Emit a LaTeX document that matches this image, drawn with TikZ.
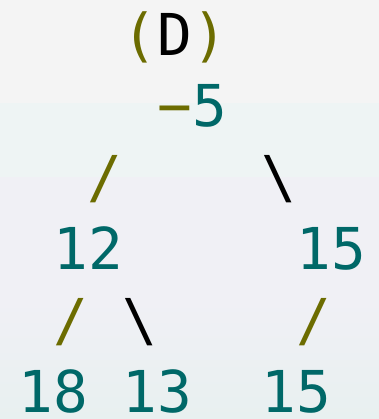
\documentclass[tikz,border=0pt]{standalone}
\usepackage{fontspec}
\newfontfamily\codefont{DejaVu Sans Mono}
\definecolor{tealnum}{RGB}{0,104,104}
\definecolor{olivesym}{RGB}{108,108,0}
\definecolor{bgA}{RGB}{244,244,244}
\definecolor{bgB}{RGB}{238,244,244}
\definecolor{bgC}{RGB}{240,240,245}
\definecolor{bgD}{RGB}{232,240,240}
\begin{document}
\begin{tikzpicture}[x=0.75pt,y=-0.75pt,
  tok/.style={anchor=base west,inner sep=0pt,outer sep=0pt,text depth=0pt,
    font=\codefont\fontsize{43.3}{52}\selectfont},
  num/.style={tok,text=tealnum},
  sym/.style={tok,text=olivesym},
  blk/.style={tok,text=black}]
\useasboundingbox (0,0) rectangle (379,419);
% background bands
\fill[bgA] (0,0) rectangle (379,103);
\fill[bgB] (0,103) rectangle (379,177);
\fill[bgC] (0,177) rectangle (379,300);
\shade[top color=bgC,bottom color=bgD] (0,300) rectangle (379,419);
% grid: column left x = 18.5 + 34.75*c ; baseline y = 55 + 71.4*(line-1)
% line 1
\node[sym] (lp) at (18.5+34.75*3,55) {(};
\node[blk] (dd) at (18.5+34.75*4,55) {D};
\node[sym] (rp) at (18.5+34.75*5,55) {)};
% line 2
\node[sym] (minus) at (18.5+34.75*4,126.4) {\symbol{"2212}};
\node[num] (root) at (18.5+34.75*5,126.4) {5};
% line 3
\node[sym] (s1) at (18.5+34.75*2,197.8) {/};
\node[blk] (b1) at (18.5+34.75*7,197.8) {\textbackslash};
% line 4
\node[num] (n12) at (18.5+34.75*1,269.2) {12};
\node[num] (n15a) at (18.5+34.75*8,269.2) {15};
% line 5
\node[sym] (s2) at (18.5+34.75*1,340.6) {/};
\node[blk] (b2) at (18.5+34.75*3,340.6) {\textbackslash};
\node[sym] (s3) at (18.5+34.75*8,340.6) {/};
% line 6
\node[num] (n18) at (18.5+34.75*0,412) {18};
\node[num] (n13) at (18.5+34.75*3,412) {13};
\node[num] (n15b) at (18.5+34.75*7,412) {15};
\end{tikzpicture}
\end{document}
